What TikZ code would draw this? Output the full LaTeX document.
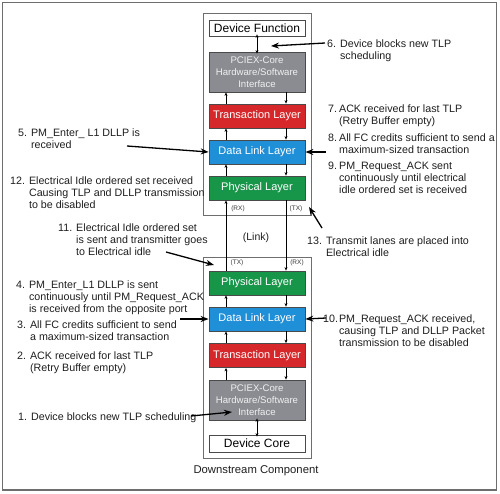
\documentclass[tikz,border=0pt]{standalone}
\usepackage{fontspec}
\setmainfont{Liberation Sans}
\usetikzlibrary{arrows.meta}
\definecolor{pcgray}{HTML}{8A8C91}
\definecolor{trred}{HTML}{D6282B}
\definecolor{dlblue}{HTML}{1F8FD7}
\definecolor{phgreen}{HTML}{17964A}
\definecolor{boxedge}{HTML}{4A4A4A}
\definecolor{outeredge}{HTML}{6E6E6E}
\definecolor{labcol}{HTML}{1E1E1E}
\begin{document}
\begin{tikzpicture}[x=1pt,y=-1pt,
  layer/.style={draw=boxedge, line width=0.8pt, minimum width=96pt, inner sep=0pt, text=white, font=\fontsize{11}{12}\selectfont},
  whitebox/.style={layer, fill=white, text=black, font=\fontsize{12}{13}\selectfont},
  pcbox/.style={layer, fill=pcgray, text=white!88!gray, minimum height=40pt, align=center, font=\fontsize{9.6}{11.8}\selectfont},
  outerbox/.style={draw=outeredge, line width=0.9pt, minimum width=108pt, inner sep=0pt},
  up/.style={line width=0.6pt, -{Stealth[length=3.5pt,width=3pt]}},
  both/.style={line width=0.6pt, {Stealth[length=3.5pt,width=3pt]}-{Stealth[length=3.5pt,width=3pt]}},
  callout/.style={line width=1.3pt, -{Stealth[length=8pt,width=6pt]}},
  lab/.style={anchor=base west, inner sep=0pt, text=labcol, font=\fontsize{10.7}{12.4}\selectfont},
  rxtx/.style={inner sep=0pt, text=black!80, font=\fontsize{6.5}{7}\selectfont}]
\useasboundingbox (0,0) rectangle (500,493);
\draw[draw=outeredge, line width=1.2pt] (2.5,2.5) rectangle (496.5,490);

% upstream stack
\node[outerbox, minimum height=202pt] (outT) at (257,114) {};
\node[whitebox, minimum height=16pt] (df) at (257,28) {Device Function};
\node[pcbox] (pcT) at (257,72) {PCIEX-Core\\Hardware/Software\\Interface};
\node[layer, fill=trred, minimum height=24pt] (trT) at (257,116) {Transaction Layer};
\node[layer, fill=dlblue, minimum height=24pt] (dlT) at (257,152) {Data Link Layer};
\node[layer, fill=phgreen, minimum height=24pt] (phT) at (257,188) {Physical Layer};
\node[rxtx] (rxT) at (238,209) {(RX)};
\node[rxtx] (txT) at (296,209) {(TX)};

% downstream stack
\node[outerbox, minimum height=201pt] (outB) at (257,357.5) {};
\node[rxtx] (txB) at (237,263) {(TX)};
\node[rxtx] (rxB) at (297,263) {(RX)};
\node[layer, fill=phgreen, minimum height=24pt] (phB) at (257,283) {Physical Layer};
\node[layer, fill=dlblue, minimum height=24pt] (dlB) at (257,319) {Data Link Layer};
\node[layer, fill=trred, minimum height=24pt] (trB) at (257,355.5) {Transaction Layer};
\node[pcbox] (pcB) at (257,400) {PCIEX-Core\\Hardware/Software\\Interface};
\node[whitebox, minimum height=17pt] (dc) at (257,443.5) {Device Core};
\node[inner sep=0pt, text=labcol, font=\fontsize{11.3}{13}\selectfont] (dsc) at (256,471) {Downstream Component};

\node[inner sep=0pt, text=labcol, font=\fontsize{10.5}{12}\selectfont] (link) at (256,238) {(Link)};

% inner arrows, upstream
\draw[both] ([yshift=2pt]df.south) -- ([yshift=-2pt]pcT.north);
\draw[up] ([xshift=-31pt]trT.north) -- ([xshift=-31pt]pcT.south);
\draw[up] ([xshift=29pt]pcT.south) -- ([xshift=29pt]trT.north);
\draw[up] ([xshift=-31pt]dlT.north) -- ([xshift=-31pt]trT.south);
\draw[up] ([xshift=29pt]trT.south) -- ([xshift=29pt]dlT.north);
\draw[up] ([xshift=-31pt]phT.north) -- ([xshift=-31pt]dlT.south);
\draw[up] ([xshift=29pt]dlT.south) -- ([xshift=29pt]phT.north);
% link
\draw[up] ([xshift=-31pt]phB.north) -- ([xshift=-31pt]phT.south);
\draw[up] ([xshift=29pt]phT.south) -- ([xshift=29pt]phB.north);
% inner arrows, downstream
\draw[up] ([xshift=-31pt]dlB.north) -- ([xshift=-31pt]phB.south);
\draw[up] ([xshift=29pt]phB.south) -- ([xshift=29pt]dlB.north);
\draw[up] ([xshift=-31pt]trB.north) -- ([xshift=-31pt]dlB.south);
\draw[up] ([xshift=29pt]dlB.south) -- ([xshift=29pt]trB.north);
\draw[up] ([xshift=-31pt]pcB.north) -- ([xshift=-31pt]trB.south);
\draw[up] ([xshift=29pt]trB.south) -- ([xshift=29pt]pcB.north);
\draw[both] ([yshift=2pt]pcB.south) -- ([yshift=-2pt]dc.north);

% left labels
\node[lab] (l5) at (18,136) {\begin{tabular}[t]{@{}l@{ }l@{}}5. & PM\_Enter\_ L1 DLLP is\\ & received\end{tabular}};
\node[lab] (l12) at (10,184) {\begin{tabular}[t]{@{}l@{ }l@{}}12. & Electrical Idle ordered set received\\ & Causing TLP and DLLP transmission\\ & to be disabled\end{tabular}};
\node[lab] (l11) at (58,231) {\begin{tabular}[t]{@{}l@{ }l@{}}11. & Electrical Idle ordered set\\ & is sent and transmitter goes\\ & to Electrical idle\end{tabular}};
\node[lab] (l4) at (16,288) {\begin{tabular}[t]{@{}l@{ }l@{}}4. & PM\_Enter\_L1 DLLP is sent\\ & continuously until PM\_Request\_ACK\\ & is received from the opposite port\end{tabular}};
\node[lab] (l3) at (17,328) {\begin{tabular}[t]{@{}l@{ }l@{}}3. & All FC credits sufficient to send\\ & a maximum-sized transaction\end{tabular}};
\node[lab] (l2) at (17,359) {\begin{tabular}[t]{@{}l@{ }l@{}}2. & ACK received for last TLP\\ & (Retry Buffer empty)\end{tabular}};
\node[lab] (l1) at (18,420) {\begin{tabular}[t]{@{}l@{ }l@{}}1. & Device blocks new TLP scheduling\end{tabular}};

% right labels
\node[lab] (r6) at (327,47) {\begin{tabular}[t]{@{}l@{\hspace{4pt}}l@{}}6. & Device blocks new TLP\\ & scheduling\end{tabular}};
\node[lab] (r7) at (328,112) {\begin{tabular}[t]{@{}l@{\hspace{2pt}}l@{}}7. & ACK received for last TLP\\ & (Retry Buffer empty)\end{tabular}};
\node[lab] (r8) at (328,141) {\begin{tabular}[t]{@{}l@{\hspace{2pt}}l@{}}8. & All FC credits sufficient to send a\\ & maximum-sized transaction\end{tabular}};
\node[lab] (r9) at (328,169) {\begin{tabular}[t]{@{}l@{\hspace{2pt}}l@{}}9. & PM\_Request\_ACK sent\\ & continuously until electrical\\ & idle ordered set is received\end{tabular}};
\node[lab] (r13) at (307,244) {\begin{tabular}[t]{@{}l@{ }l@{}}13. & Transmit lanes are placed into\\ & Electrical idle\end{tabular}};
\node[lab] (r10) at (323,322) {\begin{tabular}[t]{@{}l@{\hspace{1pt}}l@{}}10. & PM\_Request\_ACK received,\\ & causing TLP and DLLP Packet\\ & transmission to be disabled\end{tabular}};

% callout arrows
\coordinate (s6) at (325,43);
\coordinate (t6) at (271,46);
\coordinate (s5) at (127,146);
\coordinate (s8) at (326,152);
\coordinate (s13) at (322,228);
\coordinate (t13) at (309,207);
\coordinate (s11) at (166,252);
\coordinate (t11) at (214,265);
\coordinate (s4) at (180,319);
\coordinate (s10) at (326,318);
\coordinate (s1) at (191,416);
\coordinate (t1) at (232,412);
\draw[callout] (s6) -- (t6);
\draw[callout] (s5) -- (dlT.west);
\draw[callout] (s8) -- (dlT.east);
\draw[callout] (s13) -- (t13);
\draw[callout] (s11) -- (t11);
\draw[callout] (s4) -- (dlB.west);
\draw[callout] (s10) -- (dlB.east);
\draw[callout] (s1) -- (t1);
\end{tikzpicture}
\end{document}
